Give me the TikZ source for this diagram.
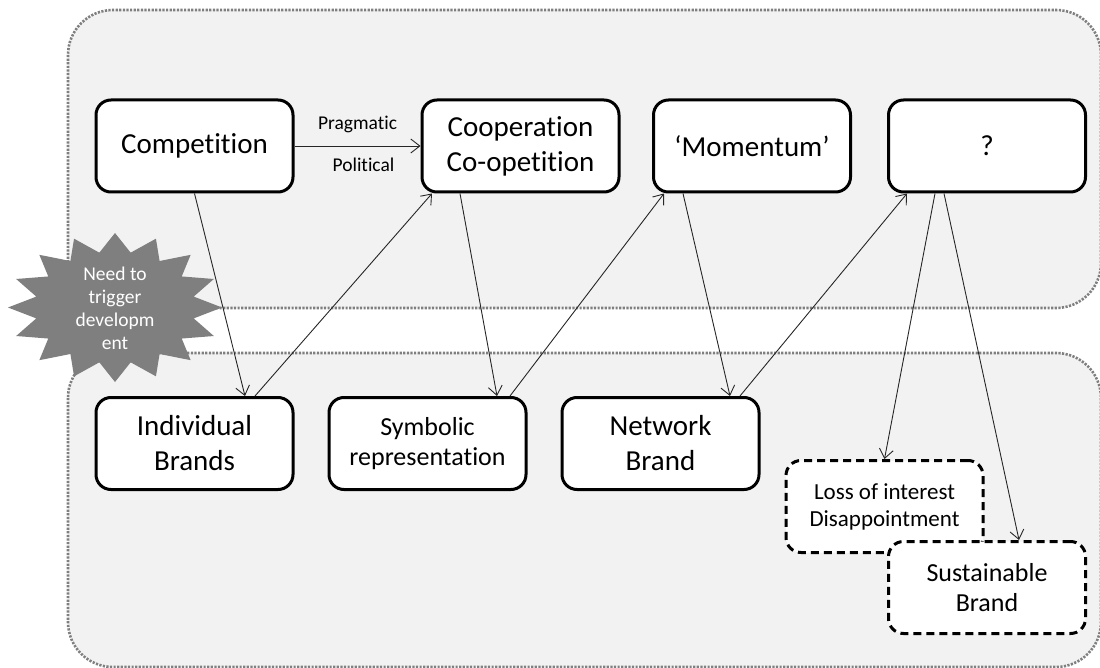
\documentclass[tikz,border=0pt]{standalone}
\usepackage{fontspec}
\setmainfont{Carlito}[RawFeature={-liga;-dlig}]
\usetikzlibrary{arrows.meta}

\definecolor{zonefill}{HTML}{F2F2F2}
\definecolor{zoneline}{HTML}{7F7F7F}
\definecolor{burst}{HTML}{7F7F7F}
\definecolor{linkcol}{HTML}{262626}

\tikzset{
  zone/.style={draw=zoneline, fill=zonefill, line width=2.6pt,
    dash pattern=on 2.2pt off 1.4pt, rounded corners=45pt},
  stage/.style={draw=black, fill=white, line width=3pt, rounded corners=15pt,
    minimum width=197pt, minimum height=92pt, inner sep=0pt, align=center,
    font={\fontsize{29}{35}\selectfont}},
  smallstage/.style={stage, font={\fontsize{26}{30}\selectfont}},
  outcome/.style={stage, dash pattern=on 8pt off 5pt},
  link/.style={draw=linkcol, line width=0.9pt,
    -{Straight Barb[length=9pt,width=14pt,line width=0.9pt]}},
  linklabel/.style={font={\fontsize{19.5}{23}\selectfont}, text=black},
}

\begin{document}
\begin{tikzpicture}[x=1pt, y=-1pt]
\useasboundingbox (0,0) rectangle (1100,668);

% two shaded zones
\draw[zone] (68,10) rectangle (1101,308);
\draw[zone] (68,353) rectangle (1101,667);

% sixteen-point burst
\fill[burst] ({115+107*cos(90)},{307.5-74.5*sin(90)})
  \foreach \i in {0,...,15} {
    -- ({115+80.25*cos(101.25+22.5*\i)},{307.5-55.9*sin(101.25+22.5*\i)})
    -- ({115+107*cos(112.5+22.5*\i)},{307.5-74.5*sin(112.5+22.5*\i)})
  } -- cycle;
\node[align=center, text=white, font={\fontsize{19.5}{23}\selectfont}]
  (trigger) at (115,308) {Need to\\trigger\\developm\\ent};

% top row
\node[stage] (comp) at (194.5,146) {Competition};
\node[stage] (coop) at (520.5,146) {Cooperation\\Co-opetition};
\node[stage] (mom)  at (752,146) {‘Momentum’};
\node[stage] (q)    at (987,146) {?};

% bottom row
\node[stage] (ind) at (194.5,443.5) {Individual\\Brands};
\node[smallstage] (sym) at (427.5,443.5) {Symbolic\\representation};
\node[stage] (net) at (660.5,443.5) {Network\\Brand};
\node[outcome, font={\fontsize{23}{27}\selectfont}] (loss) at (884.5,506.5)
  {Loss of interest\\Disappointment};
\node[outcome, font={\fontsize{26}{30}\selectfont}] (sus) at (987,587.5)
  {Sustainable\\Brand};

% connectors
\draw[link] (comp.east) -- (coop.west)
  node[linklabel, midway, yshift=22pt] {Pragmatic}
  node[linklabel, midway, yshift=-19pt, xshift=6pt] {Political};
\draw[link] (comp.south) -- ([xshift=50.5pt]ind.north);
\draw[link] ([xshift=60.5pt]ind.north) -- ([xshift=-88.5pt]coop.south);
\draw[link] ([xshift=-60.5pt]coop.south) -- ([xshift=69.5pt]sym.north);
\draw[link] ([xshift=82.5pt]sym.north) -- ([xshift=-88pt]mom.south);
\draw[link] ([xshift=-69pt]mom.south) -- ([xshift=69.5pt]net.north);
\draw[link] ([xshift=79.5pt]net.north) -- ([xshift=-80pt]q.south);
\draw[link] ([xshift=-52pt]q.south) -- (loss.north);
\draw[link] ([xshift=-43pt]q.south) -- ([xshift=32pt]sus.north);
\end{tikzpicture}
\end{document}
